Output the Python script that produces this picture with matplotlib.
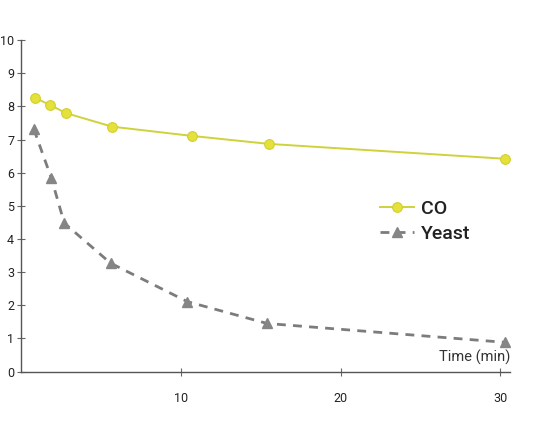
import numpy as np
import matplotlib.pyplot as plt

plt.rcParams['font.family'] = ['Roboto', 'DejaVu Sans']

# data
time_co = [0.9, 1.8, 2.8, 5.7, 10.7, 15.5, 30.3]
co = [8.25, 8.05, 7.8, 7.39, 7.11, 6.87, 6.42]

time_yeast = [0.8, 1.9, 2.7, 5.6, 10.4, 15.4, 30.3]
yeast = [7.31, 5.83, 4.48, 3.27, 2.11, 1.45, 0.88]

x_ticks = [10, 20, 30]
y_ticks = list(range(0, 11))

fig = plt.figure(figsize=(5.55, 4.32), dpi=100)
ax = fig.add_axes([0.038, 0.14, 0.881, 0.767])

ax.plot(time_co, co, color='#cfd23a', lw=1.4, marker='o', ms=7,
        mfc='#e4e03c', mec='#d2d030', mew=0.8, label='CO', zorder=3)
ax.plot(time_yeast, yeast, color='#7c7c7c', lw=2.0, ls=(0, (3.2, 2.6)),
        marker='^', ms=7.5, mfc='#858585', mec='#858585', label='Yeast', zorder=3)

ax.set_xlim(0, 30.6)
ax.set_ylim(0, 10)
ax.set_xticks(x_ticks)
ax.set_yticks(y_ticks)

for s in ['top', 'right']:
    ax.spines[s].set_visible(False)
for s in ['left', 'bottom']:
    ax.spines[s].set_color('#555555')
    ax.spines[s].set_linewidth(1.0)

ax.tick_params(axis='y', direction='inout', length=6, width=0.8, color='#666666',
               labelsize=9, pad=2, labelcolor='#222222')
ax.tick_params(axis='x', direction='inout', length=6, width=0.8, color='#666666',
               labelsize=9, pad=12, labelcolor='#222222')

ax.text(1.0, 0.02, 'Time (min)', transform=ax.transAxes, ha='right', va='bottom',
        fontsize=10.5, color='#333333')

leg = ax.legend(loc='center left', bbox_to_anchor=(0.735, 0.4525), frameon=False,
                fontsize=14, handlelength=1.7, handletextpad=0.4, labelspacing=0.35,
                borderpad=0, borderaxespad=0)
for t in leg.get_texts():
    t.set_fontweight('medium')
    t.set_color('#222222')

fig.savefig('out.png', dpi=100)
